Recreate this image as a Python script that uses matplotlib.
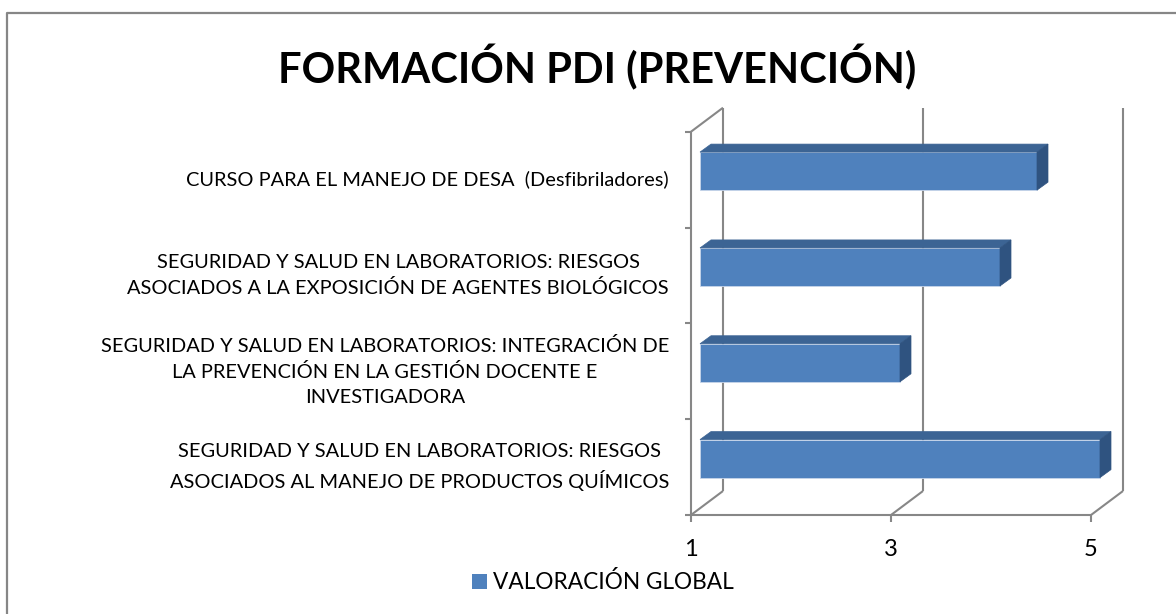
import matplotlib
matplotlib.use("Agg")
import matplotlib.pyplot as plt
from matplotlib.patches import Polygon, Rectangle
from matplotlib.lines import Line2D
from matplotlib.transforms import IdentityTransform
import numpy as np

# ---------------- data ----------------
title = "FORMACIÓN PDI (PREVENCIÓN)"
categories = [
    "SEGURIDAD Y SALUD EN LABORATORIOS: RIESGOS\nASOCIADOS AL MANEJO DE PRODUCTOS QUÍMICOS",
    "SEGURIDAD Y SALUD EN LABORATORIOS: INTEGRACIÓN DE\nLA PREVENCIÓN EN LA GESTIÓN DOCENTE E\nINVESTIGADORA",
    "SEGURIDAD Y SALUD EN LABORATORIOS: RIESGOS\nASOCIADOS A LA EXPOSICIÓN DE AGENTES BIOLÓGICOS",
    "CURSO PARA EL MANEJO DE DESA  (Desfibriladores)",
]
values = [5.0, 3.0, 4.0, 4.37]
series_name = "VALORACIÓN GLOBAL"
x_ticks = [1, 3, 5]
x_min, x_max = 1, 5

# ---------------- style ----------------
FONT = "Lato"
W, H = 1176, 614
DPI = 100
front = "#4F81BD"
top_c = "#3C6494"
side_c = "#2F5380"
grid_c = "#878787"

fig = plt.figure(figsize=(W / DPI, H / DPI), dpi=DPI)
fig.patch.set_facecolor("white")

# axes placed so the front plane of the 3-D box matches the reference
left_px, right_px = 691, 1091
top_px, bot_px = 131.7, 515
ax = fig.add_axes([left_px / W, 1 - bot_px / H, (right_px - left_px) / W, (bot_px - top_px) / H])
ax.set_xlim(x_min, x_max)
n = len(categories)
ax.set_ylim(-0.5, n - 0.5)
ax.axis("off")

fig.canvas.draw()


def P(x, y, dx=0.0, dy=0.0):
    p = ax.transData.transform((x, y))
    return (p[0] + dx, p[1] + dy)


def line(pts, **kw):
    xs = [p[0] for p in pts]
    ys = [p[1] for p in pts]
    fig.add_artist(Line2D(xs, ys, transform=IdentityTransform(), color=grid_c,
                          lw=1.5, solid_capstyle="butt", **kw))


# depth of the 3-D box (pixels)
DX, DY = 32, 24
y0, y1 = -0.5, n - 0.5

# back wall grid lines
for t in x_ticks:
    line([P(t, y0, DX, DY), P(t, y1, DX, DY)])
# floor diagonals
for t in x_ticks:
    line([P(t, y0), P(t, y0, DX, DY)])
# left wall top diagonal
line([P(x_min, y1), P(x_min, y1, DX, DY)])
# front vertical axis
line([P(x_min, y0), P(x_min, y1)])
# front floor edge
line([P(x_min, y0), P(x_max, y0)])
# y ticks
for k in range(n + 1):
    yy = y0 + k
    line([P(x_min, yy, -6), P(x_min, yy)])
# x ticks
for t in x_ticks:
    line([P(t, y0), P(t, y0, 0, -7)])

# bars (3-D look)
bh = 0.397
BX, BY = 9, 8.5     # front face offset into depth
TX, TY = 11, 8      # bar depth
for i, v in enumerate(values):
    a = P(x_min, i - bh / 2, BX, BY)
    b = P(v, i + bh / 2, BX, BY)
    fig.add_artist(Rectangle(a, b[0] - a[0], b[1] - a[1], transform=IdentityTransform(),
                             facecolor=front, edgecolor="#C7D5EA", lw=0.6, zorder=3))
    tl = (a[0], b[1])
    tr = (b[0], b[1])
    fig.add_artist(Polygon([tl, tr, (tr[0] + TX, tr[1] + TY), (tl[0] + TX, tl[1] + TY)],
                           closed=True, transform=IdentityTransform(),
                           facecolor=top_c, edgecolor=top_c, lw=0.5, zorder=3))
    br = (b[0], a[1])
    fig.add_artist(Polygon([br, tr, (tr[0] + TX, tr[1] + TY), (br[0] + TX, br[1] + TY)],
                           closed=True, transform=IdentityTransform(),
                           facecolor=side_c, edgecolor=side_c, lw=0.5, zorder=3))

# category labels
for i, c in enumerate(categories):
    p = P(x_min, i)
    fig.text((p[0] - 22) / W, p[1] / H, c, ha="right", va="center", multialignment="center",
             fontsize=14.4, family=FONT, color="black", linespacing=1.55)

# x tick labels
for t in x_ticks:
    p = P(t, y0)
    fig.text(p[0] / W, (p[1] - 34) / H, str(t), ha="center", va="center",
             fontsize=17, family=FONT, color="black")

# title
fig.text(597 / W, 1 - 83 / H, title, ha="center", va="baseline", fontsize=30,
         fontweight="bold", family=FONT, color="black")

# legend
fig.add_artist(Rectangle((472, H - 589), 15, 15, transform=IdentityTransform(),
                         facecolor=front, edgecolor="none"))
fig.text(493 / W, 1 - 589 / H, series_name, ha="left", va="baseline", fontsize=16.3,
         family=FONT, color="black")

# chart border (top and left visible)
fig.add_artist(Line2D([7, 7, W], [0, H - 12.5, H - 12.5], transform=IdentityTransform(),
                      color="#868686", lw=1.6))

fig.savefig("out.png", dpi=DPI, facecolor="white")
